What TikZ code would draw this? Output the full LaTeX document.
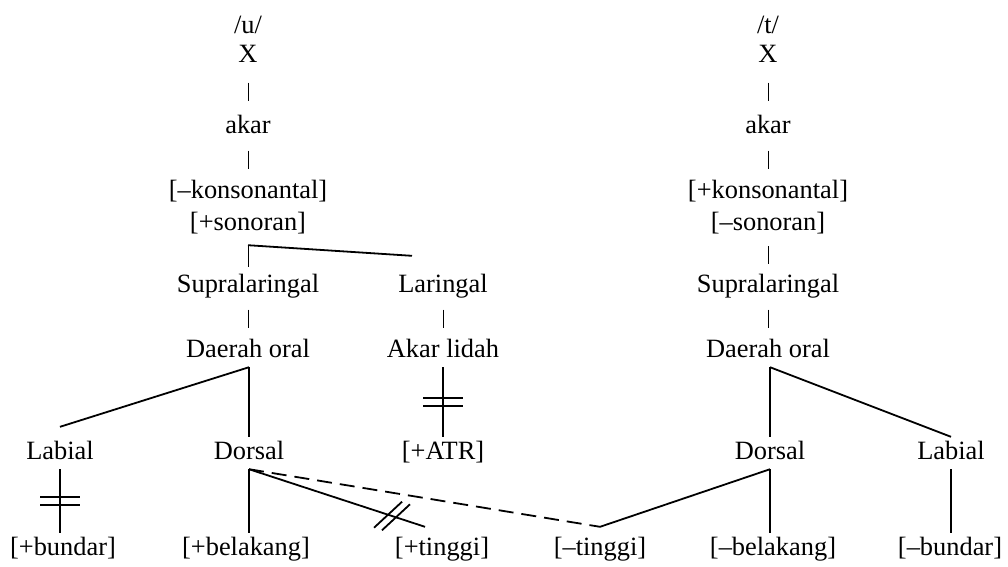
\documentclass[tikz,border=0pt]{standalone}
\usepackage{fontspec}
\setmainfont{Liberation Serif}
\usetikzlibrary{calc}

\tikzset{
  feat/.style={inner xsep=0pt, inner ysep=5pt, anchor=base, text height=17pt, text depth=5pt,
    font=\fontsize{26.4}{30}\selectfont},
  link/.style={line width=1.8pt},
  tick/.style={line width=1pt},
  newlink/.style={line width=1.8pt, dash pattern=on 15pt off 8pt},
}

% short thin bar half way between two stacked labels
\newcommand\vtick[2]{\draw[tick] ($(#1.south)!0.5!(#2.north)+(0,-9)$) -- ($(#1.south)!0.5!(#2.north)+(0,9)$);}
% two bars across a cut association line
\newcommand\cutbars[2]{\draw[link] ($(#1)!0.5!(#2)+(-20,-4)$) -- +(40,0) ($(#1)!0.5!(#2)+(-20,4)$) -- +(40,0);}

\begin{document}
\begin{tikzpicture}[x=1pt, y=-1pt]
  \useasboundingbox (0,0) rectangle (1008,566);

  % Upper stacks
  \foreach \n/\txt/\y in {sl/{/u/}/33, x/X/62, ak/akar/133, kon/{[–konsonantal]}/198,
      son/{[+sonoran]}/230, sup/Supralaringal/292, oral/Daerah oral/357}
    \node[feat] (u\n) at (248,\y) {\txt};
  \foreach \n/\txt/\y in {sl/{/t/}/33, x/X/62, ak/akar/133, kon/{[+konsonantal]}/198,
      son/{[–sonoran]}/230, sup/Supralaringal/292, oral/Daerah oral/357}
    \node[feat] (r\n) at (768,\y) {\txt};

  \node[feat] (ular) at (443,292) {Laringal};
  \node[feat] (ulid) at (443,357) {Akar lidah};

  % Articulator row
  \node[feat] (ulab) at (60,459) {Labial};
  \node[feat] (udor) at (249,459) {Dorsal};
  \node[feat] (uatr) at (443,459) {[+ATR]};
  \node[feat] (rdor) at (770,459) {Dorsal};
  \node[feat] (rlab) at (951,459) {Labial};

  % Feature row
  \foreach \n/\txt/\x in {ubun/{[+bundar]}/63, ubel/{[+belakang]}/246, utin/{[+tinggi]}/442,
      rtin/{[–tinggi]}/600, rbel/{[–belakang]}/773, rbun/{[–bundar]}/950}
    \node[feat] (\n) at (\x,555) {\txt};

  % Attachment points
  \coordinate (ujoin) at ([yshift=-5pt]uson.south);
  \coordinate (ularT) at ([xshift=-31pt,yshift=14pt]ular.north);
  \coordinate (ulabT) at ([yshift=10pt]ulab.north);
  \coordinate (usplit) at (udor.north |- uoral.south);
  \coordinate (rsplit) at (rdor.north |- roral.south);
  \coordinate (utinT) at ([xshift=-17pt,yshift=6pt]utin.north);
  \coordinate (rtinT) at ([yshift=6pt]rtin.north);

  % Thin bars
  \vtick{ux}{uak}
  \vtick{uak}{ukon}
  \vtick{usup}{uoral}
  \vtick{ular}{ulid}
  \vtick{rx}{rak}
  \vtick{rak}{rkon}
  \vtick{rson}{rsup}
  \vtick{rsup}{roral}
  \draw[tick] (ujoin) -- ([yshift=3pt]usup.north);

  % /u/ tree
  \draw[link] (ujoin) -- (ularT);
  \draw[link] (usplit) -- (ulabT);
  \draw[link] (usplit) -- (udor.north);
  \draw[link] (ulab.south) -- (ulab.south |- ubun.north);
  \cutbars{ulab.south}{ulab.south |- ubun.north}
  \draw[link] (ulid.south) -- (ulid.south |- uatr.north);
  \cutbars{ulid.south}{ulid.south |- uatr.north}
  \draw[link] (udor.south) -- (udor.south |- ubel.north);
  \draw[link] (udor.south) -- (utinT);
  \draw[link] ($(udor.south)!0.79!(utinT)$) +(-14,13) -- +(14,-13);
  \draw[link] ($(udor.south)!0.835!(utinT)$) +(-14,13) -- +(14,-13);
  \draw[newlink] (udor.south) -- (rtinT);

  % /t/ tree
  \draw[link] (rsplit) -- (rdor.north);
  \draw[link] (rsplit) -- (rlab.north);
  \draw[link] (rdor.south) -- (rtinT);
  \draw[link] (rdor.south) -- (rdor.south |- rbel.north);
  \draw[link] (rlab.south) -- (rlab.south |- rbun.north);
\end{tikzpicture}
\end{document}
